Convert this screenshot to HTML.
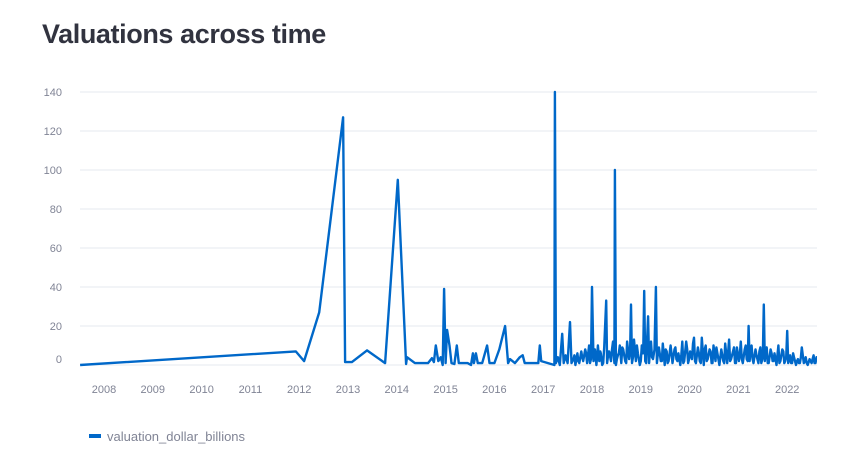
<!DOCTYPE html>
<html><head><meta charset="utf-8">
<style>
body{margin:0;background:#fff;width:842px;height:464px;overflow:hidden;font-family:"Liberation Sans",sans-serif}
#title{position:absolute;left:42px;top:19px;font-size:27px;font-weight:bold;color:#31333f;margin:0;letter-spacing:-0.4px}
svg{position:absolute;left:0;top:0}
</style></head><body>
<h1 id="title">Valuations across time</h1>
<svg id="chart" width="842" height="464"></svg>
<script>
const yTicks=[0,20,40,60,80,100,120,140];
const xTicks=[2008,2009,2010,2011,2012,2013,2014,2015,2016,2017,2018,2019,2020,2021,2022];
const dates=[2007.51,2011.93,2012.10,2012.41,2012.90,2012.94,2013.08,2013.39,2013.76,2014.02,2014.19,2014.21,2014.37,2014.64,2014.72,2014.76,2014.80,2014.85,2014.90,2014.94,2014.97,2015.00,2015.03,2015.08,2015.12,2015.18,2015.23,2015.27,2015.45,2015.52,2015.56,2015.58,2015.62,2015.66,2015.75,2015.85,2015.90,2016.00,2016.10,2016.22,2016.28,2016.32,2016.42,2016.52,2016.58,2016.62,2016.80,2016.90,2016.93,2016.96,2017.23,2017.24,2017.26,2017.30,2017.34,2017.39,2017.42,2017.46,2017.50,2017.55,2017.58,
2017.62,2017.66,2017.70,2017.74,2017.78,2017.82,2017.86,2017.90,2017.94,2017.98,2018.00,2018.03,2018.06,2018.09,2018.12,2018.15,2018.18,2018.21,2018.25,2018.29,2018.31,2018.35,2018.39,2018.43,2018.46,2018.47,2018.49,2018.53,2018.57,2018.60,2018.64,2018.68,2018.72,2018.76,2018.80,2018.82,2018.86,2018.90,2018.94,2018.98,2019.02,2019.07,2019.09,2019.12,2019.15,2019.17,2019.21,2019.25,2019.28,2019.31,2019.33,2019.37,2019.41,2019.45,2019.49,2019.53,2019.57,2019.61,2019.65,2019.69,2019.73,2019.77,2019.81,2019.85,2019.89,2019.93,2019.97,2020.01,2020.05,2020.09,2020.13,2020.17,2020.21,2020.25,2020.29,2020.33,2020.37,2020.41,2020.45,2020.49,2020.53,2020.57,2020.61,2020.65,2020.69,2020.73,2020.77,2020.81,2020.85,2020.89,2020.93,2020.97,2021.01,2021.05,2021.09,2021.13,2021.17,2021.21,2021.23,2021.27,2021.31,2021.35,2021.39,2021.43,2021.47,2021.52,2021.54,2021.58,2021.62,2021.66,2021.70,2021.74,2021.78,2021.82,2021.86,2021.90,2021.94,2021.98,2022.00,2022.02,2022.06,2022.10,2022.14,2022.18,2022.22,2022.26,2022.30,2022.34,2022.38,2022.42,2022.46,2022.50,2022.54,2022.58,2022.61];
const values=[0,7,2,27,127,1.5,1.5,7.5,1,95,0.5,4,1,1,3.5,1.5,10,2,4,0,39,1,18,10,1,0.5,10,1,1,0,6,1,6,1,1,10,1,1,8,20,1,3,1,4,5,1,1,1,10,2,0,140,1,4,0,16,1,5,1,22,1,
3,0,6,1,7,2,8,1,10,3,40,2,8,0,10,2,6,0,9,33,1,7,2,12,1,100,0,5,10,1,8,2,12,3,31,1,13,2,6,0,10,38,2,8,25,1,12,3,8,40,1,9,2,11,0,7,2,10,1,8,3,6,0,12,2,12,1,7,3,14,1,9,2,14,0,10,3,8,1,10,2,6,0,8,2,11,1,13,3,7,1,9,2,12,1,8,3,20,2,10,1,8,3,7,1,31,2,9,1,8,2,6,0,10,2,8,1,4,17.5,1,5,1,4,0,3,1,9,1,4,0,3,1,5,1,2];
const extraDates=[2017.64,2017.72,2017.80,2017.88,2017.96,2018.04,2018.10,2018.17,2018.23,2018.33,2018.41,2018.51,2018.55,2018.62,2018.70,2018.78,2018.84,2018.92,2019.00,2019.05,2019.11,2019.19,2019.23,2019.35,2019.43,2019.51,2019.55,2019.63,2019.71,2019.75,2019.83,2019.87,2019.95,2019.99,2020.07,2020.11,2020.19,2020.23,2020.31,2020.35,2020.43,2020.47,2020.55,2020.59,2020.67,2020.71,2020.79,2020.83,2020.91,2020.95,2021.03,2021.07,2021.15,2021.19,2021.25,2021.29,2021.37,2021.41,2021.45,2021.50,2021.56,2021.60,2021.68,2021.72,2021.80,2021.84,2021.92,2021.96,2022.04,2022.08,2022.12,2022.20,2022.24,2022.28,2022.36,2022.40,2022.48,2022.52,2022.56,2022.60];
const extraValues=[5,2,4,6,1,6,3,7,1,5,8,3,6,9,1,7,4,10,2,6,1,9,4,6,2,8,1,6,9,2,5,1,8,3,11,2,6,1,8,2,7,1,9,3,5,1,7,2,9,1,6,3,10,2,7,3,5,1,9,4,7,1,6,2,5,1,7,2,3,1,6,2,1,4,2,1,2,3,1,4];
const pts=dates.map((d,i)=>[d,values[i]]).concat(extraDates.map((d,i)=>[d,extraValues[i]])).sort((a,b)=>a[0]-b[0]);
const NS="http://www.w3.org/2000/svg";
const svg=document.getElementById('chart');
const X0=80,X1=817;
function xS(yr){return 104+(yr-2008)*48.8;}
function yS(v){return 365-v*1.95;}
function mk(t,a){const e=document.createElementNS(NS,t);for(const k in a)e.setAttribute(k,a[k]);svg.appendChild(e);return e;}
yTicks.forEach(t=>{
  const g=mk('line',{x1:X0,x2:X1,y1:yS(t),y2:yS(t),stroke:'#e6e9ef','stroke-width':1});
  
  
  const l=mk('text',{x:62,y:t===0?yS(t)-2:yS(t)+4,'text-anchor':'end','font-size':11,fill:'#808495','font-family':'Liberation Sans, sans-serif'});
  l.textContent=t;
  
  
});
xTicks.forEach(t=>{
  const l=mk('text',{x:xS(t),y:393,'text-anchor':'middle','font-size':11,fill:'#808495','font-family':'Liberation Sans, sans-serif'});
  l.textContent=t;
  
  
});
const cp=mk('clipPath',{id:'clip'});
const r=document.createElementNS(NS,'rect');
r.setAttribute('x',X0);r.setAttribute('y',85);r.setAttribute('width',X1-X0);r.setAttribute('height',290);
cp.appendChild(r);
const d=pts.map((p,i)=>(i?'L':'M')+xS(p[0]).toFixed(1)+','+yS(p[1]).toFixed(1)).join('');
const p=mk('path',{d:d,fill:'none',stroke:'#0068c9','stroke-width':2.4,'stroke-linejoin':'round','clip-path':'url(#clip)'});


const lg=mk('rect',{x:89,y:434,width:12,height:4,fill:'#0068c9'});


const lt=mk('text',{x:107,y:441,'font-size':13,fill:'#808495','font-family':'Liberation Sans, sans-serif'});
lt.textContent='valuation_dollar_billions';


</script>
</body></html>
